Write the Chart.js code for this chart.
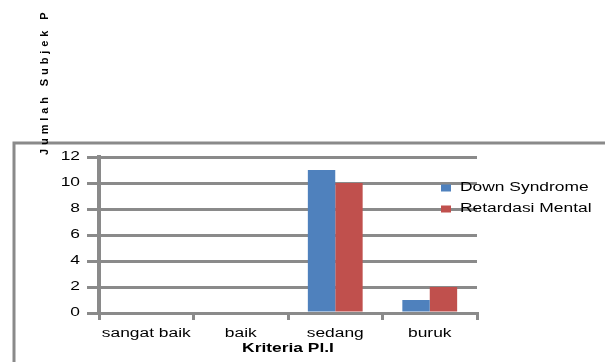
<!DOCTYPE html>
<html>
<head>
<meta charset="utf-8">
<script src="https://cdn.jsdelivr.net/npm/chart.js@4.4.1/dist/chart.umd.min.js"></script>
<style>
    html, body { margin: 0; padding: 0; background: #fff; }
    #wrap { width: 605px; height: 362px; }
</style>
</head>
<body>
<div id="wrap"><canvas id="chart" width="605" height="362"></canvas></div>
<script>
const kategori = ["sangat baik", "baik", "sedang", "buruk"];
const downSyndrome = [0, 0, 11, 1];
const retardasiMental = [0, 0, 10, 2];
const yMax = 12;
const yStep = 2;

const abu = "#8a8a8a";
const biru = "#4f81bd";
const merah = "#c0504d";
const huruf = "'Liberation Sans', Arial, sans-serif";
const regang = 1.45; // teks di gambar asli melebar ke samping

const canvas = document.getElementById("chart");
const ctx = canvas.getContext("2d");

// Semua teks digambar melebar, seperti gambar asli
const fillAsli = ctx.fillText.bind(ctx);
ctx.fillText = function (text, x, y, maxWidth) {
    this.save();
    this.translate(x, y);
    this.scale(regang, 1);
    if (maxWidth !== undefined) fillAsli(text, 0, 0, maxWidth / regang);
    else fillAsli(text, 0, 0);
    this.restore();
};

// Bingkai, judul sumbu Y dan legenda
const hiasan = {
    id: "hiasan",
    beforeDraw(chart) {
        const c = chart.ctx;
        c.save();
        c.strokeStyle = abu;
        c.lineWidth = 3;
        c.beginPath();
        c.moveTo(14, 370);
        c.lineTo(14, 143);
        c.lineTo(620, 143);
        c.stroke();
        c.restore();
    },
    afterDraw(chart) {
        const c = chart.ctx;
        // judul sumbu Y
        c.save();
        c.translate(45, 155);
        c.rotate(-Math.PI / 2);
        c.font = "bold 11px " + huruf;
        c.letterSpacing = "3.9px";
        c.fillStyle = "#000";
        c.textAlign = "left";
        c.textBaseline = "middle";
        fillAsli("Jumlah Subjek P", 0, 0);
        c.restore();

        // legenda
        c.save();
        c.font = "12px " + huruf;
        c.textAlign = "left";
        c.textBaseline = "middle";
        chart.data.datasets.forEach((ds, i) => {
            const y = 188 + i * 21;
            c.fillStyle = ds.backgroundColor;
            c.fillRect(441, y - 3.5, 10, 7);
            c.fillStyle = "#000";
            c.fillText(ds.label, 460, y);
        });
        c.restore();
    }
};

new Chart(ctx, {
    type: "bar",
    data: {
        labels: kategori,
        datasets: [
            { label: "Down Syndrome", data: downSyndrome, backgroundColor: biru },
            { label: "Retardasi Mental", data: retardasiMental, backgroundColor: merah }
        ]
    },
    options: {
        responsive: false,
        animation: false,
        devicePixelRatio: 1,
        layout: { padding: { left: 0, top: 157, right: 128, bottom: 0 } },
        datasets: {
            bar: { categoryPercentage: 0.58, barPercentage: 1.0, borderWidth: 0 }
        },
        plugins: {
            legend: { display: false },
            tooltip: { enabled: false }
        },
        scales: {
            x: {
                afterFit: (s) => { s.height = 49; },
                grid: {
                    offset: true,
                    drawOnChartArea: false,
                    drawTicks: true,
                    tickLength: 7,
                    color: abu,
                    lineWidth: 3
                },
                border: { display: true, color: abu, width: 3 },
                ticks: {
                    color: "#000",
                    font: { family: huruf, size: 12 },
                    padding: 6,
                    maxRotation: 0,
                    autoSkip: false
                },
                title: {
                    display: true,
                    text: "Kriteria Pl.I",
                    color: "#000",
                    font: { family: huruf, size: 12, weight: "bold" },
                    padding: { top: 0, bottom: 6 }
                }
            },
            y: {
                min: 0,
                max: yMax,
                afterFit: (s) => { s.width = 99; },
                grid: {
                    drawTicks: true,
                    tickLength: 12,
                    color: abu,
                    lineWidth: 3
                },
                border: { display: true, color: abu, width: 4 },
                ticks: {
                    stepSize: yStep,
                    color: "#000",
                    font: { family: huruf, size: 12 },
                    padding: 7
                }
            }
        }
    },
    plugins: [hiasan]
});
</script>
</body>
</html>
